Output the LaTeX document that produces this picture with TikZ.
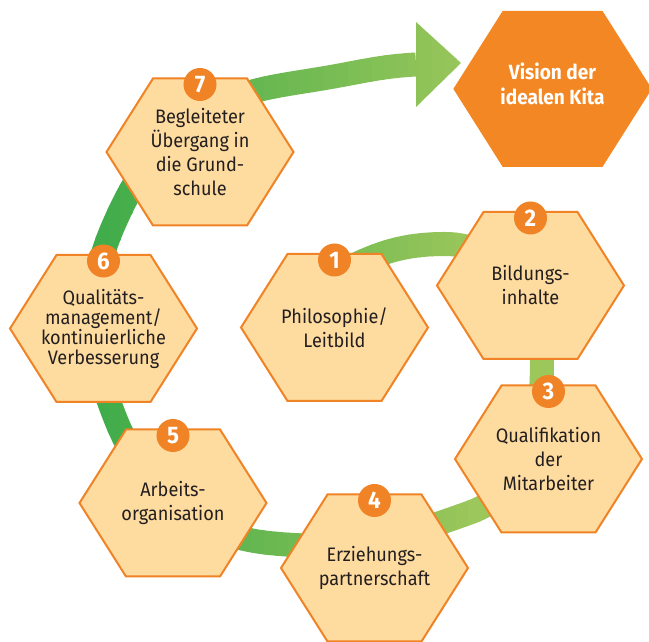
\documentclass[tikz,border=0pt]{standalone}
\usepackage{fontspec}
\setmainfont{Fira Sans}[FakeStretch=0.93]
\usepackage{tikz}
\definecolor{hexFill}{RGB}{254,219,159}
\definecolor{hexLine}{RGB}{240,131,38}
\definecolor{visionFill}{RGB}{243,135,36}
\definecolor{bandDark}{RGB}{64,172,74}
\definecolor{bandLight}{RGB}{156,199,91}
\definecolor{labelText}{RGB}{35,31,32}
\newcommand{\hexW}[0]{93.5}
\newcommand{\hexH}[0]{73.5}
\newcommand{\hexT}[0]{47}
\newcommand{\kitaHex}[5][]{%
  \coordinate (#2) at (#3);
  \filldraw[#4] (#2) ++(-\hexW,0) -- ++(\hexW-\hexT,\hexH) -- ++(2*\hexT,0)
    -- ++(\hexW-\hexT,-\hexH) -- ++(\hexT-\hexW,-\hexH) -- ++(-2*\hexT,0) -- cycle;
  \node[hexLabel, #1] (#2-label) at (#2) {#5};
}
\newcommand{\spiralPath}[0]{(s0) to[out=28,in=180] (s1) to[out=0,in=90] (s2)
  to[out=-90,in=20] (s3) to[out=200,in=-6] (s4) to[out=174,in=-68] (s5)
  to[out=112,in=-114] (s6) to[out=66,in=220] (s7) to[out=40,in=190] (s8)
  to[out=10,in=183] (s9)}

\begin{document}
\begin{tikzpicture}[x=1pt, y=1pt]
  \tikzset{hexBody/.style={fill=hexFill, draw=hexLine, line width=2pt},
    visionBody/.style={fill=visionFill, draw=visionFill, line width=1pt, scale=1.055},
    hexLabel/.style={align=center, text=labelText, font=\fontsize{19.5}{24}\selectfont},
    numDot/.style={circle, fill=hexLine, text=white, minimum size=33pt, inner sep=0pt,
      font=\bfseries\fontsize{24}{24}\selectfont},
    band/.style={line width=24pt}}
  \useasboundingbox (0,0) rectangle (649,642);
  \coordinate (s0) at (333,366);
  \coordinate (s1) at (445,398);
  \coordinate (s2) at (542,283);
  \coordinate (s3) at (470,129.5);
  \coordinate (s4) at (269,99);
  \coordinate (s5) at (116,222);
  \coordinate (s6) at (115,420);
  \coordinate (s7) at (185,515);
  \coordinate (s8) at (331,565);
  \coordinate (s9) at (416,577.5);
  \coordinate (headTop) at (416,620);
  \coordinate (headTip) at (461,579);
  \coordinate (headBot) at (416,535);
  \foreach \i in {0,...,43}{
    \pgfmathsetmacro{\xa}{60+12*\i}
    \pgfmathsetmacro{\mix}{min(100,max(0,(\xa+6-100)/3.8))}
    \begin{scope}
      \clip (\xa-0.5,0) rectangle (\xa+12.5,642);
      \draw[band, draw=bandLight!\mix!bandDark] \spiralPath;
      \fill[bandLight!\mix!bandDark] (headTop) -- (headTip) -- (headBot) -- cycle;
    \end{scope}
  }
  \kitaHex{h1}{334.5,314.5}{hexBody}{Philosophie/\\Leitbild}
  \kitaHex{h2}{530.5,356.5}{hexBody}{Bildungs-\\inhalte}
  \kitaHex{h3}{548.5,183}{hexBody}{Qualifikation\\der\\Mitarbeiter}
  \kitaHex{h4}{374.5,74}{hexBody}{Erziehungs-\\partnerschaft}
  \kitaHex{h5}{173,139}{hexBody}{Arbeits-\\organisation}
  \kitaHex[font=\fontsize{19.5}{20}\selectfont]{h6}{103.5,313.5}{hexBody}{Qualitäts-\\management/\\kontinuierliche\\Verbesserung}
  \kitaHex{h7}{200,490}{hexBody}{Begleiteter\\Übergang in\\die Grund-\\schule}
  \kitaHex[text=white, yshift=5pt, font=\bfseries\fontsize{20.5}{25}\selectfont]{vision}{552.5,553}{visionBody}{Vision der\\idealen Kita}
  \foreach \k in {1,...,7}
    \node[numDot] (n\k) at ([yshift=67.5pt]h\k) {\k};
\end{tikzpicture}
\end{document}
